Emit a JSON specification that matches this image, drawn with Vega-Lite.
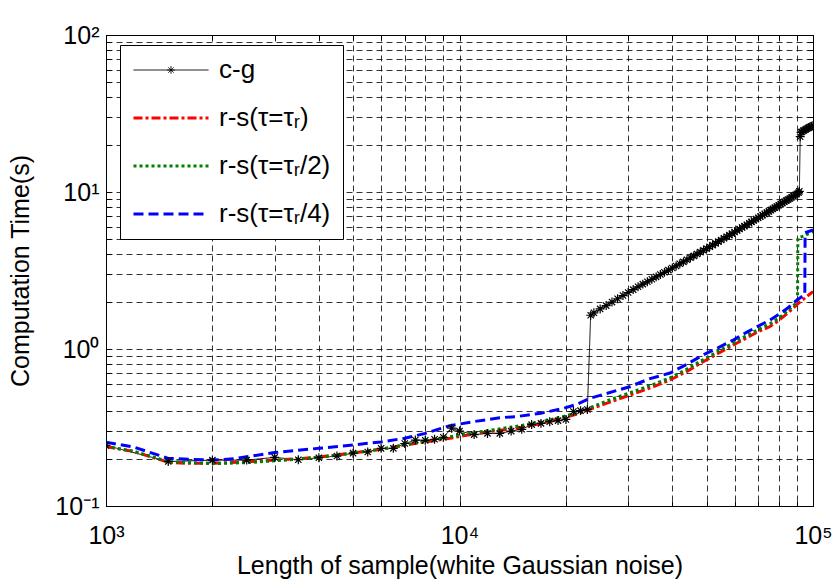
{
  "$schema": "https://vega.github.io/schema/vega-lite/v6.json",
  "width": 707,
  "height": 471,
  "autosize": {"type": "none"},
  "padding": {"left": 106, "top": 35, "right": 19, "bottom": 76},
  "background": "white",
  "config": {
    "font": "Liberation Sans",
    "view": {"stroke": "black", "strokeWidth": 1},
    "axis": {
      "grid": true,
      "gridColor": "#000000",
      "gridOpacity": 0.8,
      "gridDash": [6, 4],
      "gridWidth": 1,
      "domain": false,
      "tickColor": "#000000",
      "tickSize": -5,
      "labelFont": "Liberation Sans",
      "labelFontSize": 25,
      "labelColor": "#000000",
      "labelOverlap": false,
      "labelBound": false,
      "labelFlush": false,
      "titleFont": "Liberation Sans",
      "titleFontSize": 25,
      "titleFontWeight": "normal",
      "titleColor": "#000000"
    },
    "legend": {
      "orient": "none",
      "legendX": 14,
      "legendY": 10,
      "strokeColor": "#000000",
      "fillColor": "#ffffff",
      "padding": 12,
      "labelFont": "Liberation Sans",
      "labelFontSize": 26,
      "labelColor": "#000000",
      "symbolType": "M-1,0L5,0",
      "symbolSize": 625,
      "rowPadding": 21,
      "labelOffset": 59
    }
  },
  "datasets": {
    "lines": [
      {"s": "c-g", "n": 1000, "t": 0.243},
      {"s": "c-g", "n": 1500, "t": 0.192},
      {"s": "c-g", "n": 2000, "t": 0.196},
      {"s": "c-g", "n": 2500, "t": 0.196},
      {"s": "c-g", "n": 3000, "t": 0.204},
      {"s": "c-g", "n": 3500, "t": 0.197},
      {"s": "c-g", "n": 4000, "t": 0.203},
      {"s": "c-g", "n": 4500, "t": 0.208},
      {"s": "c-g", "n": 5000, "t": 0.217},
      {"s": "c-g", "n": 5500, "t": 0.221},
      {"s": "c-g", "n": 6000, "t": 0.233},
      {"s": "c-g", "n": 6500, "t": 0.233},
      {"s": "c-g", "n": 7000, "t": 0.25},
      {"s": "c-g", "n": 7500, "t": 0.263},
      {"s": "c-g", "n": 8000, "t": 0.262},
      {"s": "c-g", "n": 8500, "t": 0.266},
      {"s": "c-g", "n": 9000, "t": 0.274},
      {"s": "c-g", "n": 9500, "t": 0.313},
      {"s": "c-g", "n": 10000, "t": 0.3},
      {"s": "c-g", "n": 11000, "t": 0.285},
      {"s": "c-g", "n": 12000, "t": 0.29},
      {"s": "c-g", "n": 13000, "t": 0.29},
      {"s": "c-g", "n": 14000, "t": 0.3},
      {"s": "c-g", "n": 15000, "t": 0.308},
      {"s": "c-g", "n": 16000, "t": 0.33},
      {"s": "c-g", "n": 17000, "t": 0.336},
      {"s": "c-g", "n": 18000, "t": 0.344},
      {"s": "c-g", "n": 19000, "t": 0.35},
      {"s": "c-g", "n": 20000, "t": 0.356},
      {"s": "c-g", "n": 21000, "t": 0.4},
      {"s": "c-g", "n": 22000, "t": 0.405},
      {"s": "c-g", "n": 23000, "t": 0.412},
      {"s": "c-g", "n": 23500, "t": 1.64},
      {"s": "c-g", "n": 24000, "t": 1.7},
      {"s": "c-g", "n": 25000, "t": 1.8},
      {"s": "c-g", "n": 26000, "t": 1.89},
      {"s": "c-g", "n": 27000, "t": 1.99},
      {"s": "c-g", "n": 28000, "t": 2.09},
      {"s": "c-g", "n": 29000, "t": 2.19},
      {"s": "c-g", "n": 30000, "t": 2.29},
      {"s": "c-g", "n": 31000, "t": 2.39},
      {"s": "c-g", "n": 32000, "t": 2.49},
      {"s": "c-g", "n": 33000, "t": 2.59},
      {"s": "c-g", "n": 34000, "t": 2.68},
      {"s": "c-g", "n": 35000, "t": 2.78},
      {"s": "c-g", "n": 36000, "t": 2.88},
      {"s": "c-g", "n": 37000, "t": 2.98},
      {"s": "c-g", "n": 38000, "t": 3.08},
      {"s": "c-g", "n": 39000, "t": 3.18},
      {"s": "c-g", "n": 40000, "t": 3.28},
      {"s": "c-g", "n": 41000, "t": 3.38},
      {"s": "c-g", "n": 42000, "t": 3.49},
      {"s": "c-g", "n": 43000, "t": 3.59},
      {"s": "c-g", "n": 44000, "t": 3.7},
      {"s": "c-g", "n": 45000, "t": 3.81},
      {"s": "c-g", "n": 46000, "t": 3.92},
      {"s": "c-g", "n": 47000, "t": 4.03},
      {"s": "c-g", "n": 48000, "t": 4.14},
      {"s": "c-g", "n": 49000, "t": 4.25},
      {"s": "c-g", "n": 50000, "t": 4.36},
      {"s": "c-g", "n": 51000, "t": 4.48},
      {"s": "c-g", "n": 52000, "t": 4.59},
      {"s": "c-g", "n": 53000, "t": 4.71},
      {"s": "c-g", "n": 54000, "t": 4.83},
      {"s": "c-g", "n": 55000, "t": 4.95},
      {"s": "c-g", "n": 56000, "t": 5.07},
      {"s": "c-g", "n": 57000, "t": 5.19},
      {"s": "c-g", "n": 58000, "t": 5.31},
      {"s": "c-g", "n": 59000, "t": 5.43},
      {"s": "c-g", "n": 60000, "t": 5.56},
      {"s": "c-g", "n": 61000, "t": 5.68},
      {"s": "c-g", "n": 62000, "t": 5.81},
      {"s": "c-g", "n": 63000, "t": 5.94},
      {"s": "c-g", "n": 64000, "t": 6.06},
      {"s": "c-g", "n": 65000, "t": 6.19},
      {"s": "c-g", "n": 66000, "t": 6.32},
      {"s": "c-g", "n": 67000, "t": 6.45},
      {"s": "c-g", "n": 68000, "t": 6.58},
      {"s": "c-g", "n": 69000, "t": 6.72},
      {"s": "c-g", "n": 70000, "t": 6.85},
      {"s": "c-g", "n": 71000, "t": 6.98},
      {"s": "c-g", "n": 72000, "t": 7.12},
      {"s": "c-g", "n": 73000, "t": 7.25},
      {"s": "c-g", "n": 74000, "t": 7.39},
      {"s": "c-g", "n": 75000, "t": 7.53},
      {"s": "c-g", "n": 76000, "t": 7.67},
      {"s": "c-g", "n": 77000, "t": 7.81},
      {"s": "c-g", "n": 78000, "t": 7.95},
      {"s": "c-g", "n": 79000, "t": 8.09},
      {"s": "c-g", "n": 80000, "t": 8.23},
      {"s": "c-g", "n": 81000, "t": 8.37},
      {"s": "c-g", "n": 82000, "t": 8.52},
      {"s": "c-g", "n": 83000, "t": 8.66},
      {"s": "c-g", "n": 84000, "t": 8.81},
      {"s": "c-g", "n": 85000, "t": 8.96},
      {"s": "c-g", "n": 86000, "t": 9.1},
      {"s": "c-g", "n": 87000, "t": 9.25},
      {"s": "c-g", "n": 88000, "t": 9.4},
      {"s": "c-g", "n": 89000, "t": 9.56},
      {"s": "c-g", "n": 90000, "t": 9.71},
      {"s": "c-g", "n": 91000, "t": 9.9},
      {"s": "c-g", "n": 91500, "t": 10.1},
      {"s": "c-g", "n": 92000, "t": 22.5},
      {"s": "c-g", "n": 92500, "t": 24.0},
      {"s": "c-g", "n": 93000, "t": 24.2},
      {"s": "c-g", "n": 94000, "t": 24.6},
      {"s": "c-g", "n": 95000, "t": 24.9},
      {"s": "c-g", "n": 96000, "t": 25.3},
      {"s": "c-g", "n": 97000, "t": 25.6},
      {"s": "c-g", "n": 98000, "t": 25.9},
      {"s": "c-g", "n": 99000, "t": 26.2},
      {"s": "c-g", "n": 100000, "t": 26.5},

      {"s": "r-s(τ=τᵣ)", "n": 1000, "t": 0.239},
      {"s": "r-s(τ=τᵣ)", "n": 1200, "t": 0.222},
      {"s": "r-s(τ=τᵣ)", "n": 1500, "t": 0.19},
      {"s": "r-s(τ=τᵣ)", "n": 1700, "t": 0.187},
      {"s": "r-s(τ=τᵣ)", "n": 2000, "t": 0.187},
      {"s": "r-s(τ=τᵣ)", "n": 2500, "t": 0.191},
      {"s": "r-s(τ=τᵣ)", "n": 3000, "t": 0.196},
      {"s": "r-s(τ=τᵣ)", "n": 3500, "t": 0.2},
      {"s": "r-s(τ=τᵣ)", "n": 4000, "t": 0.205},
      {"s": "r-s(τ=τᵣ)", "n": 5000, "t": 0.218},
      {"s": "r-s(τ=τᵣ)", "n": 6000, "t": 0.23},
      {"s": "r-s(τ=τᵣ)", "n": 7000, "t": 0.244},
      {"s": "r-s(τ=τᵣ)", "n": 8000, "t": 0.256},
      {"s": "r-s(τ=τᵣ)", "n": 9400, "t": 0.27},
      {"s": "r-s(τ=τᵣ)", "n": 11000, "t": 0.288},
      {"s": "r-s(τ=τᵣ)", "n": 12500, "t": 0.3},
      {"s": "r-s(τ=τᵣ)", "n": 14500, "t": 0.313},
      {"s": "r-s(τ=τᵣ)", "n": 17000, "t": 0.335},
      {"s": "r-s(τ=τᵣ)", "n": 19700, "t": 0.365},
      {"s": "r-s(τ=τᵣ)", "n": 21500, "t": 0.385},
      {"s": "r-s(τ=τᵣ)", "n": 23400, "t": 0.413},
      {"s": "r-s(τ=τᵣ)", "n": 26000, "t": 0.45},
      {"s": "r-s(τ=τᵣ)", "n": 30300, "t": 0.509},
      {"s": "r-s(τ=τᵣ)", "n": 35000, "t": 0.57},
      {"s": "r-s(τ=τᵣ)", "n": 39400, "t": 0.635},
      {"s": "r-s(τ=τᵣ)", "n": 44000, "t": 0.72},
      {"s": "r-s(τ=τᵣ)", "n": 48900, "t": 0.83},
      {"s": "r-s(τ=τᵣ)", "n": 54000, "t": 0.94},
      {"s": "r-s(τ=τᵣ)", "n": 59500, "t": 1.06},
      {"s": "r-s(τ=τᵣ)", "n": 65000, "t": 1.18},
      {"s": "r-s(τ=τᵣ)", "n": 70000, "t": 1.29},
      {"s": "r-s(τ=τᵣ)", "n": 75600, "t": 1.39},
      {"s": "r-s(τ=τᵣ)", "n": 80000, "t": 1.52},
      {"s": "r-s(τ=τᵣ)", "n": 85000, "t": 1.7},
      {"s": "r-s(τ=τᵣ)", "n": 89900, "t": 1.91},
      {"s": "r-s(τ=τᵣ)", "n": 95000, "t": 2.12},
      {"s": "r-s(τ=τᵣ)", "n": 100000, "t": 2.32},

      {"s": "r-s(τ=τᵣ/2)", "n": 1000, "t": 0.24},
      {"s": "r-s(τ=τᵣ/2)", "n": 1200, "t": 0.223},
      {"s": "r-s(τ=τᵣ/2)", "n": 1500, "t": 0.192},
      {"s": "r-s(τ=τᵣ/2)", "n": 2000, "t": 0.186},
      {"s": "r-s(τ=τᵣ/2)", "n": 2500, "t": 0.189},
      {"s": "r-s(τ=τᵣ/2)", "n": 3000, "t": 0.194},
      {"s": "r-s(τ=τᵣ/2)", "n": 3500, "t": 0.199},
      {"s": "r-s(τ=τᵣ/2)", "n": 4000, "t": 0.204},
      {"s": "r-s(τ=τᵣ/2)", "n": 5000, "t": 0.217},
      {"s": "r-s(τ=τᵣ/2)", "n": 6000, "t": 0.23},
      {"s": "r-s(τ=τᵣ/2)", "n": 7000, "t": 0.245},
      {"s": "r-s(τ=τᵣ/2)", "n": 8000, "t": 0.259},
      {"s": "r-s(τ=τᵣ/2)", "n": 9400, "t": 0.276},
      {"s": "r-s(τ=τᵣ/2)", "n": 11000, "t": 0.293},
      {"s": "r-s(τ=τᵣ/2)", "n": 12500, "t": 0.306},
      {"s": "r-s(τ=τᵣ/2)", "n": 14500, "t": 0.322},
      {"s": "r-s(τ=τᵣ/2)", "n": 17000, "t": 0.343},
      {"s": "r-s(τ=τᵣ/2)", "n": 19700, "t": 0.372},
      {"s": "r-s(τ=τᵣ/2)", "n": 21500, "t": 0.392},
      {"s": "r-s(τ=τᵣ/2)", "n": 23400, "t": 0.422},
      {"s": "r-s(τ=τᵣ/2)", "n": 26000, "t": 0.465},
      {"s": "r-s(τ=τᵣ/2)", "n": 30300, "t": 0.525},
      {"s": "r-s(τ=τᵣ/2)", "n": 35000, "t": 0.59},
      {"s": "r-s(τ=τᵣ/2)", "n": 39400, "t": 0.655},
      {"s": "r-s(τ=τᵣ/2)", "n": 44000, "t": 0.745},
      {"s": "r-s(τ=τᵣ/2)", "n": 48900, "t": 0.855},
      {"s": "r-s(τ=τᵣ/2)", "n": 54000, "t": 0.97},
      {"s": "r-s(τ=τᵣ/2)", "n": 59500, "t": 1.09},
      {"s": "r-s(τ=τᵣ/2)", "n": 65000, "t": 1.22},
      {"s": "r-s(τ=τᵣ/2)", "n": 70000, "t": 1.33},
      {"s": "r-s(τ=τᵣ/2)", "n": 75600, "t": 1.45},
      {"s": "r-s(τ=τᵣ/2)", "n": 80000, "t": 1.57},
      {"s": "r-s(τ=τᵣ/2)", "n": 85000, "t": 1.76},
      {"s": "r-s(τ=τᵣ/2)", "n": 90400, "t": 2.0},
      {"s": "r-s(τ=τᵣ/2)", "n": 90600, "t": 5.07},
      {"s": "r-s(τ=τᵣ/2)", "n": 95000, "t": 5.3},
      {"s": "r-s(τ=τᵣ/2)", "n": 100000, "t": 5.6},

      {"s": "r-s(τ=τᵣ/4)", "n": 1000, "t": 0.255},
      {"s": "r-s(τ=τᵣ/4)", "n": 1200, "t": 0.237},
      {"s": "r-s(τ=τᵣ/4)", "n": 1500, "t": 0.201},
      {"s": "r-s(τ=τᵣ/4)", "n": 2000, "t": 0.196},
      {"s": "r-s(τ=τᵣ/4)", "n": 2300, "t": 0.2},
      {"s": "r-s(τ=τᵣ/4)", "n": 3000, "t": 0.219},
      {"s": "r-s(τ=τᵣ/4)", "n": 4000, "t": 0.233},
      {"s": "r-s(τ=τᵣ/4)", "n": 5000, "t": 0.245},
      {"s": "r-s(τ=τᵣ/4)", "n": 6000, "t": 0.256},
      {"s": "r-s(τ=τᵣ/4)", "n": 7000, "t": 0.27},
      {"s": "r-s(τ=τᵣ/4)", "n": 8000, "t": 0.29},
      {"s": "r-s(τ=τᵣ/4)", "n": 9400, "t": 0.325},
      {"s": "r-s(τ=τᵣ/4)", "n": 11000, "t": 0.345},
      {"s": "r-s(τ=τᵣ/4)", "n": 13000, "t": 0.365},
      {"s": "r-s(τ=τᵣ/4)", "n": 14500, "t": 0.371},
      {"s": "r-s(τ=τᵣ/4)", "n": 17000, "t": 0.39},
      {"s": "r-s(τ=τᵣ/4)", "n": 19700, "t": 0.419},
      {"s": "r-s(τ=τᵣ/4)", "n": 21500, "t": 0.445},
      {"s": "r-s(τ=τᵣ/4)", "n": 23400, "t": 0.485},
      {"s": "r-s(τ=τᵣ/4)", "n": 26000, "t": 0.52},
      {"s": "r-s(τ=τᵣ/4)", "n": 30300, "t": 0.575},
      {"s": "r-s(τ=τᵣ/4)", "n": 34400, "t": 0.645},
      {"s": "r-s(τ=τᵣ/4)", "n": 39400, "t": 0.703},
      {"s": "r-s(τ=τᵣ/4)", "n": 44000, "t": 0.8},
      {"s": "r-s(τ=τᵣ/4)", "n": 48900, "t": 0.916},
      {"s": "r-s(τ=τᵣ/4)", "n": 54000, "t": 1.02},
      {"s": "r-s(τ=τᵣ/4)", "n": 59500, "t": 1.14},
      {"s": "r-s(τ=τᵣ/4)", "n": 65000, "t": 1.28},
      {"s": "r-s(τ=τᵣ/4)", "n": 70000, "t": 1.4},
      {"s": "r-s(τ=τᵣ/4)", "n": 75600, "t": 1.53},
      {"s": "r-s(τ=τᵣ/4)", "n": 80000, "t": 1.66},
      {"s": "r-s(τ=τᵣ/4)", "n": 85000, "t": 1.83},
      {"s": "r-s(τ=τᵣ/4)", "n": 88000, "t": 1.97},
      {"s": "r-s(τ=τᵣ/4)", "n": 92000, "t": 2.12},
      {"s": "r-s(τ=τᵣ/4)", "n": 94800, "t": 2.22},
      {"s": "r-s(τ=τᵣ/4)", "n": 95000, "t": 5.5},
      {"s": "r-s(τ=τᵣ/4)", "n": 100000, "t": 5.73}
    ]
  },
  "data": {"name": "lines"},
  "resolve": {"axis": {"x": "independent", "y": "independent"}},
  "layer": [
    {
      "mark": {"type": "line", "clip": true},
      "encoding": {
        "x": {
          "field": "n",
          "type": "quantitative",
          "scale": {"type": "log", "domain": [1000, 100000], "nice": false},
          "axis": {
            "title": "Length of sample(white Gaussian noise)",
            "values": [1000, 2000, 3000, 4000, 5000, 6000, 7000, 8000, 9000, 10000, 20000, 30000, 40000, 50000, 60000, 70000, 80000, 90000, 100000],
            "labelExpr": "datum.value == 1000 ? '10³' : datum.value == 10000 ? '10⁴' : datum.value == 100000 ? '10⁵' : ''",
            "labelPadding": 22,
            "titlePadding": 5
          }
        },
        "y": {
          "field": "t",
          "type": "quantitative",
          "scale": {"type": "log", "domain": [0.1, 100], "nice": false},
          "axis": {
            "title": "Computation Time(s)",
            "values": [0.1, 0.2, 0.3, 0.4, 0.5, 0.6, 0.7, 0.8, 0.9, 1, 2, 3, 4, 5, 6, 7, 8, 9, 10, 20, 30, 40, 50, 60, 70, 80, 90, 100],
            "labelExpr": "datum.value == 0.1 ? '10⁻¹' : datum.value == 1 ? '10⁰' : datum.value == 10 ? '10¹' : datum.value == 100 ? '10²' : ''",
            "labelPadding": 12,
            "titlePadding": 21
          }
        },
        "color": {
          "field": "s",
          "type": "nominal",
          "sort": null,
          "scale": {
            "domain": ["c-g", "r-s(τ=τᵣ)", "r-s(τ=τᵣ/2)", "r-s(τ=τᵣ/4)"],
            "range": ["#000000", "#ff0000", "#008000", "#0000ff"]
          },
          "legend": {
            "title": null,
            "encode": {
              "symbols": {
                "update": {
                  "shape": {"signal": "datum.value == 'c-g' ? 'M-1,0L5,0M2,-0.3L2,0.3M1.7,0L2.3,0M1.79,-0.21L2.21,0.21M1.79,0.21L2.21,-0.21' : 'M-1,0L5,0'"}
                }
              }
            }
          }
        },
        "strokeDash": {
          "field": "s",
          "type": "nominal",
          "scale": {
            "domain": ["c-g", "r-s(τ=τᵣ)", "r-s(τ=τᵣ/2)", "r-s(τ=τᵣ/4)"],
            "range": [[1, 0], [9, 3, 3, 3], [3, 3], [10, 5]]
          },
          "legend": {"title": null}
        },
        "strokeWidth": {
          "field": "s",
          "type": "ordinal",
          "scale": {
            "type": "ordinal",
            "domain": ["c-g", "r-s(τ=τᵣ)", "r-s(τ=τᵣ/2)", "r-s(τ=τᵣ/4)"],
            "range": [1, 3, 3, 3]
          },
          "legend": {"title": null}
        }
      }
    },
    {
      "transform": [{"filter": "datum.s == 'c-g'"}],
      "mark": {
        "type": "point",
        "shape": "M-1,0L1,0M0,-1L0,1M-0.7,-0.7L0.7,0.7M-0.7,0.7L0.7,-0.7",
        "filled": false,
        "stroke": "#000000",
        "strokeWidth": 1.2,
        "size": 80,
        "opacity": 1,
        "clip": true
      },
      "encoding": {
        "x": {
          "field": "n",
          "type": "quantitative",
          "axis": {
            "orient": "top",
            "title": null,
            "labels": false,
            "grid": false,
            "values": [1000, 2000, 3000, 4000, 5000, 6000, 7000, 8000, 9000, 10000, 20000, 30000, 40000, 50000, 60000, 70000, 80000, 90000, 100000]
          }
        },
        "y": {
          "field": "t",
          "type": "quantitative",
          "axis": {
            "orient": "right",
            "title": null,
            "labels": false,
            "grid": false,
            "values": [0.1, 0.2, 0.3, 0.4, 0.5, 0.6, 0.7, 0.8, 0.9, 1, 2, 3, 4, 5, 6, 7, 8, 9, 10, 20, 30, 40, 50, 60, 70, 80, 90, 100]
          }
        }
      }
    }
  ]
}
